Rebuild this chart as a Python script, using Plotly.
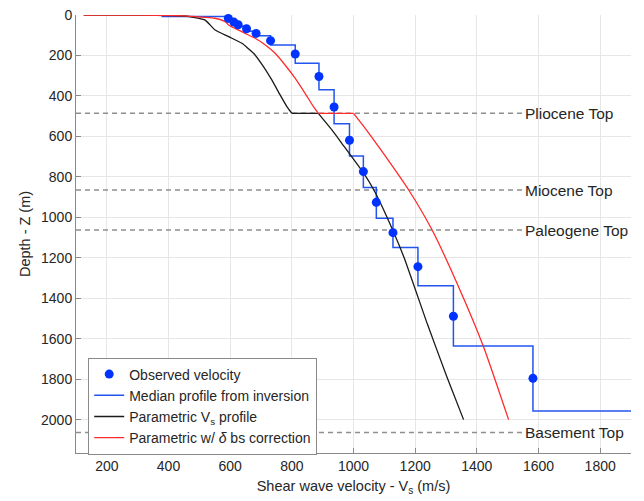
import plotly.graph_objects as go

# Observed velocity (m/s) and depth (m)
obs_v = [594, 612, 626, 653, 684, 731, 811, 888, 937, 987, 1032, 1074, 1128, 1209, 1324, 1582]
obs_z = [17, 35, 48, 68, 91, 127, 193, 304, 455, 619, 774, 926, 1076, 1244, 1489, 1796]

# Median profile from inversion: layer velocities and layer boundaries
med_v = [380, 594, 612, 626, 653, 684, 731, 811, 888, 937, 987, 1032, 1074, 1128, 1209, 1324, 1582, 2050]
med_z = [0, 7, 28, 42, 56, 80, 103, 148, 238, 370, 538, 697, 853, 1005, 1149, 1338, 1636, 1957, 2300]

# Parametric Vs profile
par_v = [125, 300, 450, 486, 519, 535, 551, 595, 638, 676, 708, 735, 762, 784, 800,
         886, 930, 962, 1033, 1066, 1098, 1163, 1239, 1303, 1357]
par_z = [0, 1, 5, 13, 25, 49, 74, 107, 140, 189, 255, 321, 395, 453, 486,
         486, 568, 634, 782, 865, 964, 1195, 1525, 1789, 2000]

# Parametric with delta bs correction
cor_v = [125, 300, 450, 486, 551, 584, 595, 616, 649, 681, 714, 746, 778, 811, 843, 870, 886,
         1000, 1038, 1089, 1179, 1255, 1336, 1422, 1503]
cor_z = [0, 1, 4, 8, 16, 33, 49, 66, 91, 115, 148, 189, 247, 313, 387, 453, 486,
         486, 560, 667, 865, 1063, 1327, 1641, 2000]

# Geological horizons
hor_names = ["Pliocene Top", "Miocene Top", "Paleogene Top", "Basement Top"]
hor_z = [486, 865, 1063, 2064]

x_tick_vals = [200, 400, 600, 800, 1000, 1200, 1400, 1600, 1800]
y_tick_vals = [0, 200, 400, 600, 800, 1000, 1200, 1400, 1600, 1800, 2000]

X_RANGE = [100, 1900]
Y_RANGE = [2165, 0]
LABEL_X = 1551

FONT = "Liberation Sans, Arial, Helvetica, sans-serif"
TXT = "#262626"

# build step coordinates
step_x, step_y = [], []
for i, v in enumerate(med_v):
    step_x += [v, v]
    step_y += [med_z[i], med_z[i + 1]]


def pieces(vs, zs):
    """split a profile at its flat (constant depth) segment"""
    k = next(i for i in range(len(zs) - 1) if zs[i] == zs[i + 1])
    return [(vs[:k + 1], zs[:k + 1], "spline"),
            (vs[k:k + 2], zs[k:k + 2], "linear"),
            (vs[k + 1:], zs[k + 1:], "spline")]


fig = go.Figure()

for name, z in zip(hor_names, hor_z):
    fig.add_trace(go.Scatter(x=[X_RANGE[0], LABEL_X], y=[z, z], mode="lines",
                             line=dict(color="#8f8f8f", width=1.4, dash="5px,4px"),
                             showlegend=False, hoverinfo="skip"))
    fig.add_annotation(x=LABEL_X, y=z, text=name, showarrow=False, xanchor="left",
                       yanchor="middle", font=dict(family=FONT, size=15.5, color=TXT))

fig.add_trace(go.Scatter(x=step_x, y=step_y, mode="lines", name="Median profile from inversion",
                         line=dict(color="#2255f0", width=1.5), legendrank=2))

for j, (xs, ys, shp) in enumerate(pieces(par_v, par_z)):
    fig.add_trace(go.Scatter(x=xs, y=ys, mode="lines", name="Parametric V<sub>s</sub> profile",
                             legendgroup="par", showlegend=(j == 0), legendrank=3,
                             line=dict(color="#1a1a1a", width=1.3, shape=shp, smoothing=0.4)))

for j, (xs, ys, shp) in enumerate(pieces(cor_v, cor_z)):
    fig.add_trace(go.Scatter(x=xs, y=ys, mode="lines", name="Parametric w/ <i>δ</i> bs correction",
                             legendgroup="cor", showlegend=(j == 0), legendrank=4,
                             line=dict(color="#ff2a2a", width=1.3, shape=shp, smoothing=0.5)))

fig.add_trace(go.Scatter(x=obs_v, y=obs_z, mode="markers", name="Observed velocity",
                         marker=dict(color="#0033ff", size=9), cliponaxis=False, legendrank=1))

axis_common = dict(showgrid=True, gridcolor="#e6e6e6", gridwidth=1, zeroline=False,
                   showline=True, linecolor="#8a8a8a", linewidth=1,
                   ticks="inside", ticklen=5, tickcolor="#8a8a8a",
                   tickfont=dict(family=FONT, size=14, color=TXT), mirror=False)

fig.update_xaxes(range=X_RANGE, tickvals=x_tick_vals, **axis_common,
                 title=dict(text="Shear wave velocity - V<sub>s</sub> (m/s)",
                            font=dict(family=FONT, size=14.5, color=TXT), standoff=8))
fig.update_yaxes(range=Y_RANGE, tickvals=y_tick_vals, **axis_common,
                 title=dict(text="Depth - Z (m)", font=dict(family=FONT, size=14.5, color=TXT),
                            standoff=6))

fig.update_layout(
    width=644, height=501,
    margin=dict(l=76, r=13, t=15, b=48, autoexpand=False),
    paper_bgcolor="white", plot_bgcolor="white",
    font=dict(family=FONT, color=TXT),
    legend=dict(x=0.022, y=0.218, xanchor="left", yanchor="top",
                bgcolor="white", bordercolor="#8a8a8a", borderwidth=1,
                font=dict(family=FONT, size=14, color=TXT),
                traceorder="normal", tracegroupgap=0, itemwidth=30),
)

fig.write_html("out.html")
